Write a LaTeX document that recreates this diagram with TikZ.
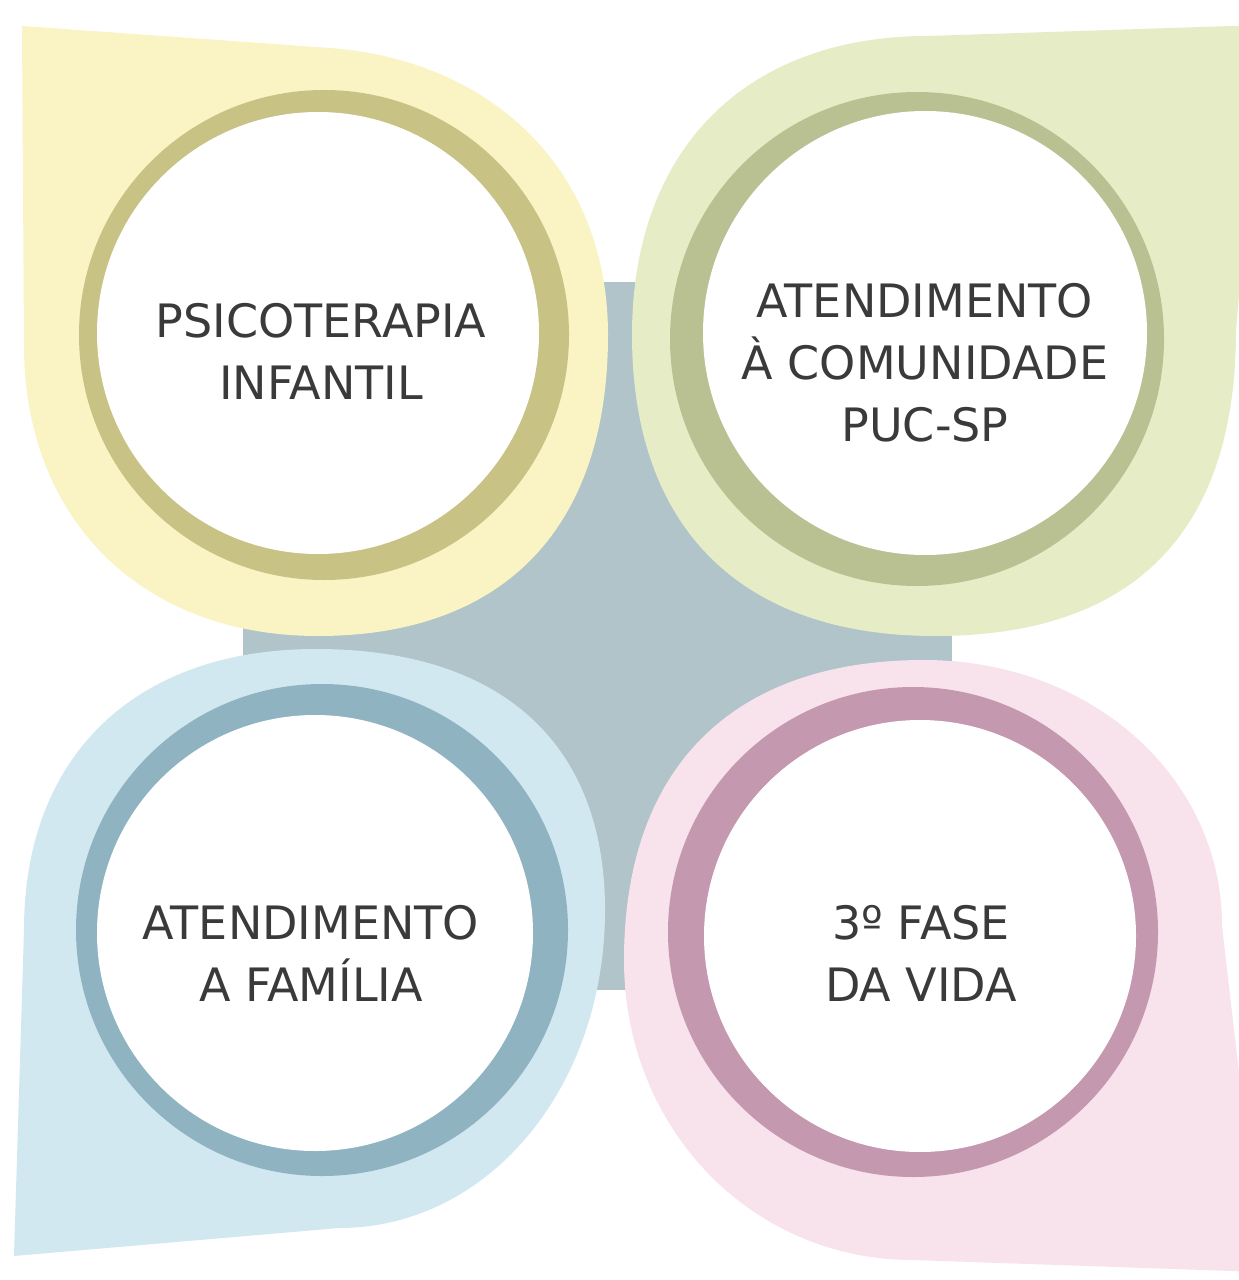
\documentclass[tikz,border=0pt]{standalone}
\usepackage{fontspec}
\setmainfont{DejaVu Sans}
\usepackage{tikz}
\definecolor{leafyellow}{HTML}{FAF3C3}
\definecolor{ringyellow}{HTML}{C9C285}
\definecolor{leafgreen}{HTML}{E6ECC6}
\definecolor{ringgreen}{HTML}{B9C193}
\definecolor{leafblue}{HTML}{D2E8F1}
\definecolor{ringblue}{HTML}{8FB3C1}
\definecolor{leafpink}{HTML}{F8E3ED}
\definecolor{ringpink}{HTML}{C498AE}
\definecolor{crossgray}{HTML}{B0C4C9}
\definecolor{textgray}{HTML}{3A3A3A}

\begin{document}
\begin{tikzpicture}[x=0.02cm,y=0.02cm,yscale=-1,
	hole/.style={fill=white},
	lbl/.style={align=center,text=textgray,inner sep=0pt,font=\fontsize{26.2}{35.3}\selectfont}]
	\fill[white] (0,0) rectangle (1239,1280);
	\useasboundingbox (0,0) rectangle (1239,1280);
	\clip (0,0) rectangle (1239,1280);

	\fill[crossgray] (243,282) rectangle (952,990);

	\fill[leafyellow] (22,26) -- (330,48) .. controls (490,60) and (608,168) .. (608,335)
		.. controls (608,528) and (504,636) .. (318,636)
		.. controls (142,636) and (24,520) .. (24,345) -- cycle;
	\fill[leafgreen] (1262,25) -- (1236,330) .. controls (1236,532) and (1134,636) .. (935,636)
		.. controls (741,636) and (632,528) .. (632,335)
		.. controls (632,150) and (745,36) .. (928,36) -- cycle;
	\fill[leafblue] (14,1256) -- (24,930) .. controls (24,756) and (135,649) .. (316,649)
		.. controls (501,649) and (605,743) .. (605,910)
		.. controls (605,1088) and (488,1228) .. (339,1228) -- cycle;
	\fill[leafpink] (1262,1272) -- (913,1260) .. controls (751,1260) and (624,1128) .. (624,960)
		.. controls (624,768) and (732,660) .. (924,660)
		.. controls (1091,660) and (1222,777) .. (1222,926) -- cycle;

	\fill[ringyellow] (324,335) circle[radius=245];
	\fill[hole] (318,333) circle[radius=221];
	\fill[ringgreen] (917,339) circle[radius=247];
	\fill[hole] (925,333) circle[radius=222];
	\fill[ringblue] (322,930) circle[radius=246];
	\fill[hole] (315,933) circle[radius=218];
	\fill[ringpink] (913,932) circle[radius=245];
	\fill[hole] (920,936) circle[radius=216];

	\node[lbl] (psico) at (321,351) {PSICOTERAPIA\\INFANTIL};
	\node[lbl] (comunidade) at (925,362.5) {ATENDIMENTO\\À COMUNIDADE\\PUC-SP};
	\node[lbl] (familia) at (311,953.5) {ATENDIMENTO\\A FAMÍLIA};
	\node[lbl] (fase) at (921,953.5) {3º FASE\\DA VIDA};
\end{tikzpicture}
\end{document}
